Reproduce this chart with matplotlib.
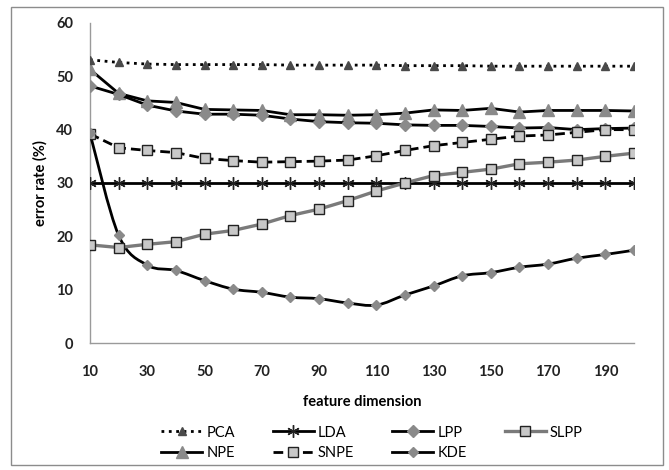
import numpy as np
import matplotlib
matplotlib.use("Agg")
import matplotlib.pyplot as plt
from matplotlib.path import Path
from matplotlib.patches import PathPatch, Rectangle
from matplotlib.lines import Line2D

plt.rcParams['font.family'] = ['Lato', 'DejaVu Sans']

# feature dimensions
dims = [10, 20, 30, 40, 50, 60, 70, 80, 90, 100,
        110, 120, 130, 140, 150, 160, 170, 180, 190, 200]

# error rates (%)
pca = [53.1, 52.6, 52.3, 52.2, 52.2, 52.2, 52.2, 52.1, 52.1, 52.1,
       52.1, 52.0, 52.0, 52.0, 51.9, 51.9, 51.9, 51.9, 51.9, 51.9]
lda = [30.0] * 20
lpp = [48.2, 46.6, 44.6, 43.5, 42.9, 42.9, 42.7, 42.0, 41.5, 41.3,
       41.2, 40.9, 40.8, 40.8, 40.6, 40.3, 40.4, 40.0, 40.2, 40.3]
slpp = [18.4, 17.9, 18.5, 19.0, 20.4, 21.1, 22.3, 23.9, 25.1, 26.7,
        28.5, 30.0, 31.4, 32.0, 32.6, 33.6, 33.9, 34.3, 35.0, 35.6]
npe = [51.3, 46.8, 45.4, 45.1, 43.8, 43.7, 43.6, 42.8, 42.8, 42.7,
       42.8, 43.1, 43.7, 43.6, 44.0, 43.3, 43.6, 43.6, 43.6, 43.5]
snpe = [39.2, 36.6, 36.1, 35.7, 34.6, 34.2, 33.9, 34.0, 34.1, 34.3,
        35.1, 36.1, 37.0, 37.6, 38.2, 38.8, 39.0, 39.5, 40.0, 40.0]
kde = [39.3, 20.2, 14.6, 13.6, 11.7, 10.1, 9.5, 8.6, 8.3, 7.5,
       7.1, 9.0, 10.7, 12.6, 13.2, 14.2, 14.8, 15.9, 16.6, 17.4]

xticks = [10, 30, 50, 70, 90, 110, 130, 150, 170, 190]
yticks = [0, 10, 20, 30, 40, 50, 60]


def smooth_path(xs, ys):
    # Excel-style smoothed line: Catmull-Rom segments as cubic Beziers
    pts = np.column_stack([xs, ys]).astype(float)
    verts = [pts[0]]
    codes = [Path.MOVETO]
    n = len(pts)
    for i in range(n - 1):
        p0 = pts[max(i - 1, 0)]
        p1 = pts[i]
        p2 = pts[i + 1]
        p3 = pts[min(i + 2, n - 1)]
        c1 = p1 + (p2 - p0) / 6.0
        c2 = p2 - (p3 - p1) / 6.0
        verts += [c1, c2, p2]
        codes += [Path.CURVE4] * 3
    return Path(verts, codes)


fig = plt.figure(figsize=(6.69, 4.70), dpi=100)
ax = fig.add_axes([0.1345, 0.2702, 0.8132, 0.6809])

lw = 2.0
ax.plot(dims, pca, linestyle=':', color='black', lw=lw, marker='^',
        markersize=6, markerfacecolor='#4a4a4a', markeredgecolor='#4a4a4a', zorder=5)
ax.plot(dims, lda, color='black', lw=lw, marker=(6, 2, 0), markersize=9,
        markeredgecolor='#222222', markeredgewidth=1.0, zorder=3)
ax.plot(dims, npe, color='black', lw=lw, marker='^', markersize=9,
        markerfacecolor='#8a8a8a', markeredgecolor='#8a8a8a', zorder=4)
ax.plot(dims, lpp, color='black', lw=lw, marker='D', markersize=6.5,
        markerfacecolor='#8a8a8a', markeredgecolor='#8a8a8a', zorder=4)
ax.plot(dims, snpe, linestyle=(0, (3.5, 1.8)), color='black', lw=lw, marker='s',
        markersize=7, markerfacecolor='#c8c8c8', markeredgecolor='#222222',
        markeredgewidth=1.0, zorder=4)
ax.plot(dims, slpp, color='#7a7a7a', lw=lw + 0.4, marker='s', markersize=7,
        markerfacecolor='#c8c8c8', markeredgecolor='#222222',
        markeredgewidth=1.0, zorder=4)
ax.add_patch(PathPatch(smooth_path(dims, kde), facecolor='none',
                       edgecolor='black', lw=lw, zorder=3))
ax.plot(dims, kde, linestyle='none', marker='D', markersize=5,
        markerfacecolor='#8a8a8a', markeredgecolor='#8a8a8a', zorder=4)

ax.set_xlim(10, 200)
ax.set_ylim(0, 60)
ax.set_xticks(xticks)
ax.set_yticks(yticks)
ax.tick_params(length=0, labelsize=10.5)
ax.tick_params(axis='y', pad=12)
ax.tick_params(axis='x', pad=16)
for lab in ax.get_xticklabels() + ax.get_yticklabels():
    lab.set_fontweight('bold')
    lab.set_color('#222222')
for side in ['top', 'right']:
    ax.spines[side].set_visible(False)
for side in ['left', 'bottom']:
    ax.spines[side].set_color('#9a9a9a')
    ax.spines[side].set_linewidth(1.0)
ax.set_xlabel('feature dimension', fontsize=10.5, fontweight='bold', labelpad=11)
ax.set_ylabel('error rate (%)', fontsize=10.5, fontweight='bold', labelpad=6)

# legend in Excel row order: PCA LDA LPP SLPP / NPE SNPE KDE
h_pca = Line2D([], [], linestyle=':', color='black', lw=lw, marker='^', markersize=6,
               markerfacecolor='#4a4a4a', markeredgecolor='#4a4a4a')
h_lda = Line2D([], [], color='black', lw=lw, marker=(6, 2, 0), markersize=9,
               markeredgecolor='#222222', markeredgewidth=1.0)
h_lpp = Line2D([], [], color='black', lw=lw, marker='D', markersize=6.5,
               markerfacecolor='#8a8a8a', markeredgecolor='#8a8a8a')
h_slpp = Line2D([], [], color='#7a7a7a', lw=lw + 0.4, marker='s', markersize=7,
                markerfacecolor='#c8c8c8', markeredgecolor='#222222', markeredgewidth=1.0)
h_npe = Line2D([], [], color='black', lw=lw, marker='^', markersize=9,
               markerfacecolor='#8a8a8a', markeredgecolor='#8a8a8a')
h_snpe = Line2D([], [], linestyle=(0, (3.5, 1.8)), color='black', lw=lw, marker='s',
                markersize=7, markerfacecolor='#c8c8c8', markeredgecolor='#222222',
                markeredgewidth=1.0)
h_kde = Line2D([], [], color='black', lw=lw, marker='D', markersize=5,
               markerfacecolor='#8a8a8a', markeredgecolor='#8a8a8a')
handles = [h_pca, h_npe, h_lda, h_snpe, h_lpp, h_kde, h_slpp]
labels = ['PCA', 'NPE', 'LDA', 'SNPE', 'LPP', 'KDE', 'SLPP']
fig.legend(handles, labels, ncol=4, loc='upper left', bbox_to_anchor=(0.23, 0.11),
           frameon=False, fontsize=10.5, handlelength=2.8, handletextpad=0.3,
           columnspacing=2.6, labelspacing=0.45, borderpad=0)

# outer chart border
fig.patches.append(Rectangle((0.016, 0.01), 0.975, 0.976, transform=fig.transFigure,
                             fill=False, edgecolor='#8c8c8c', lw=1.0))

fig.savefig('out.png', dpi=100)
